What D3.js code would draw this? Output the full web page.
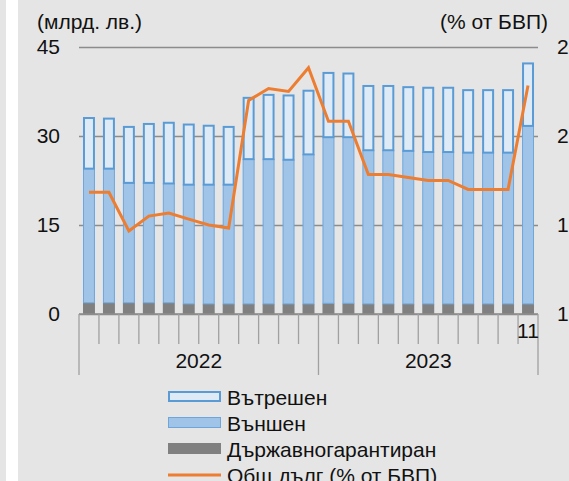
<!DOCTYPE html>
<html>
<head>
<meta charset="utf-8">
<script src="https://cdn.jsdelivr.net/npm/d3@7"></script>
<style>
  body { margin: 0; background: #e5e5e5; }
  svg { display: block; font-family: "Liberation Sans", Arial, sans-serif; }
</style>
</head>
<body>
<script>
// months Jan 2022 .. Nov 2023
var months = ["2022-01","2022-02","2022-03","2022-04","2022-05","2022-06","2022-07","2022-08","2022-09","2022-10","2022-11","2022-12",
              "2023-01","2023-02","2023-03","2023-04","2023-05","2023-06","2023-07","2023-08","2023-09","2023-10","2023-11"];
var years = ["2022", "2023"];

// млрд. лв.
var guaranteed = [1.9,1.9,1.9,1.9,1.9,1.7,1.7,1.7,1.7,1.7,1.7,1.7,1.8,1.8,1.7,1.7,1.7,1.7,1.7,1.7,1.7,1.7,1.7];
var external   = [22.6,22.6,20.2,20.2,20.1,20.1,20.1,20.1,24.4,24.4,24.3,25.2,28.0,28.0,25.9,25.9,25.8,25.6,25.6,25.5,25.5,25.5,30.0];
var domestic   = [8.7,8.6,9.6,10.1,10.4,10.3,10.1,9.9,10.5,11.0,11.0,10.9,11.0,10.9,11.0,11.0,10.9,11.0,11.0,10.7,10.7,10.7,10.7];
// % от БВП
var debtGdp    = [19.1,19.1,17.8,18.3,18.4,18.2,18.0,17.9,22.2,22.6,22.5,23.3,21.5,21.5,19.7,19.7,19.6,19.5,19.5,19.2,19.2,19.2,22.7];

var leftTicks = [0, 15, 30, 45];
var rightTicks = [15, 18, 21, 24];
var seriesNames = ["Вътрешен", "Външен", "Държавногарантиран", "Общ дълг (% от БВП)"];

var svgWidth = 569, svgHeight = 481;
var plotLeft = 79, plotRight = 538, plotTop = 47, plotBottom = 314;
var fs = 21;

var svg = d3.select("body").append("svg")
    .attr("width", svgWidth).attr("height", svgHeight);

svg.append("rect").attr("width", svgWidth).attr("height", svgHeight).attr("fill", "#e5e5e5");
svg.append("rect").attr("x", 6).attr("width", 12).attr("height", svgHeight).attr("fill", "#ffffff");

var xScale = d3.scaleBand().domain(months).range([plotLeft, plotRight]).paddingInner(0.4).paddingOuter(0.2);
var yScale = d3.scaleLinear().domain([0, 45]).range([plotBottom, plotTop]);
var y2Scale = d3.scaleLinear().domain([15, 24]).range([plotBottom, plotTop]);

// gridlines + left labels
var yAxis = svg.append("g")
    .attr("transform", "translate(" + plotLeft + ",0)")
    .call(d3.axisLeft(yScale).tickValues(leftTicks).tickSize(-(plotRight - plotLeft)).tickPadding(19));
yAxis.select(".domain").remove();
yAxis.selectAll("line").attr("stroke", "#8c8c8c").attr("stroke-width", 1.3);
yAxis.selectAll("text").attr("font-size", fs).attr("fill", "#111").attr("font-family", "Liberation Sans, Arial, sans-serif");

var y2Axis = svg.append("g")
    .attr("transform", "translate(557,0)")
    .call(d3.axisRight(y2Scale).tickValues(rightTicks).tickSize(0).tickPadding(0));
y2Axis.select(".domain").remove();
y2Axis.selectAll("text").attr("font-size", fs).attr("fill", "#111").attr("font-family", "Liberation Sans, Arial, sans-serif");

// stacked bars
var stacked = months.map(function (m, i) {
    return { m: m, g: guaranteed[i], e: external[i], d: domestic[i] };
});

svg.append("g").selectAll("rect").data(stacked).enter().append("rect")
    .attr("x", d => xScale(d.m))
    .attr("width", xScale.bandwidth())
    .attr("y", d => yScale(d.g))
    .attr("height", d => yScale(0) - yScale(d.g))
    .attr("fill", "#808080");

svg.append("g").selectAll("rect").data(stacked).enter().append("rect")
    .attr("x", d => xScale(d.m) + 0.5)
    .attr("width", xScale.bandwidth() - 1)
    .attr("y", d => yScale(d.g + d.e))
    .attr("height", d => yScale(d.g) - yScale(d.g + d.e))
    .attr("fill", "#9fc4e7")
    .attr("stroke", "#6ea6dc")
    .attr("stroke-width", 1);

svg.append("g").selectAll("rect").data(stacked).enter().append("rect")
    .attr("x", d => xScale(d.m) + 1)
    .attr("width", xScale.bandwidth() - 2)
    .attr("y", d => yScale(d.g + d.e + d.d) + 1)
    .attr("height", d => yScale(d.g + d.e) - yScale(d.g + d.e + d.d) - 1)
    .attr("fill", "#deebf7")
    .attr("stroke", "#5b9bd5")
    .attr("stroke-width", 2);

// line
var line = d3.line()
    .x((d, i) => xScale(months[i]) + xScale.bandwidth() / 2)
    .y(d => y2Scale(d));
svg.append("path").datum(debtGdp)
    .attr("d", line)
    .attr("fill", "none")
    .attr("stroke", "#ed7d31")
    .attr("stroke-width", 3);

// category axis
var step = xScale.step();
svg.append("line").attr("x1", plotLeft).attr("x2", plotRight).attr("y1", plotBottom).attr("y2", plotBottom)
    .attr("stroke", "#8c8c8c").attr("stroke-width", 1.3);
svg.append("g").selectAll("line").data(d3.range(months.length + 1)).enter().append("line")
    .attr("x1", i => plotLeft + i * step).attr("x2", i => plotLeft + i * step)
    .attr("y1", plotBottom)
    .attr("y2", i => (i === 0 || i === 12 || i === months.length) ? 375 : 344)
    .attr("stroke", "#a0a0a0").attr("stroke-width", 1.3);

svg.append("text").attr("x", xScale(months[22]) + xScale.bandwidth() / 2).attr("y", 338)
    .attr("text-anchor", "middle").attr("font-size", fs).attr("fill", "#111").text("11");

svg.append("g").selectAll("text").data(years).enter().append("text")
    .attr("x", (d, i) => i === 0 ? (plotLeft + (plotLeft + 12 * step)) / 2 : (plotLeft + 12 * step + plotRight) / 2)
    .attr("y", 368)
    .attr("text-anchor", "middle").attr("font-size", fs).attr("fill", "#111")
    .text(d => d);

// unit labels
svg.append("text").attr("x", 37).attr("y", 29).attr("font-size", fs).attr("fill", "#111").text("(млрд. лв.)");
svg.append("text").attr("x", 548).attr("y", 29).attr("text-anchor", "end").attr("font-size", fs).attr("fill", "#111").text("(% от БВП)");

// legend
var legend = svg.append("g").attr("transform", "translate(168,391)");
var rowH = 26;
legend.append("rect").attr("x", 1).attr("y", 1).attr("width", 51).attr("height", 9)
    .attr("fill", "#deebf7").attr("stroke", "#5b9bd5").attr("stroke-width", 2);
legend.append("rect").attr("x", 0.5).attr("y", rowH + 0.5).attr("width", 52).attr("height", 10)
    .attr("fill", "#9fc4e7").attr("stroke", "#6ea6dc").attr("stroke-width", 1);
legend.append("rect").attr("x", 0).attr("y", rowH * 2).attr("width", 53).attr("height", 11)
    .attr("fill", "#808080");
legend.append("line").attr("x1", 0).attr("x2", 53).attr("y1", rowH * 3 + 6).attr("y2", rowH * 3 + 6)
    .attr("stroke", "#ed7d31").attr("stroke-width", 3);
legend.selectAll("text").data(seriesNames).enter().append("text")
    .attr("x", 59).attr("y", (d, i) => i * rowH + 14)
    .attr("font-size", fs).attr("fill", "#111")
    .text(d => d);
</script>
</body>
</html>
